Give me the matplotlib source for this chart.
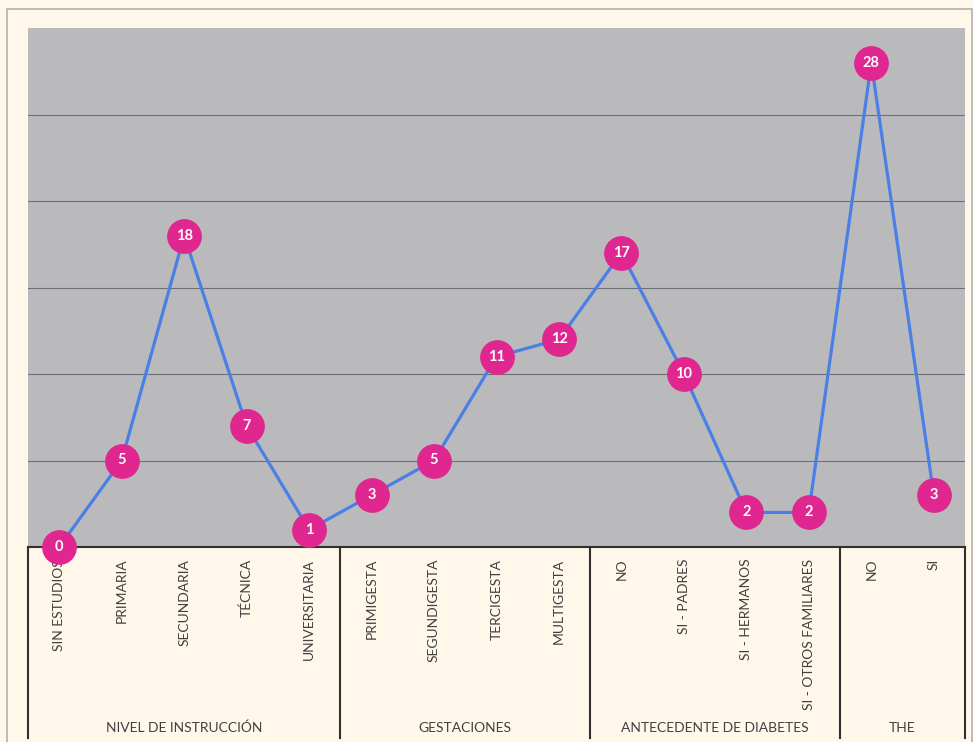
import matplotlib
matplotlib.use("Agg")
import matplotlib.pyplot as plt
from matplotlib.patches import Rectangle
from matplotlib.transforms import blended_transform_factory

categories = ["SIN ESTUDIOS", "PRIMARIA", "SECUNDARIA", "TÉCNICA", "UNIVERSITARIA",
              "PRIMIGESTA", "SEGUNDIGESTA", "TERCIGESTA", "MULTIGESTA",
              "NO", "SI - PADRES", "SI - HERMANOS", "SI - OTROS FAMILIARES",
              "NO", "SI"]
values = [0, 5, 18, 7, 1, 3, 5, 11, 12, 17, 10, 2, 2, 28, 3]
groups = ["NIVEL DE INSTRUCCIÓN", "GESTACIONES", "ANTECEDENTE DE DIABETES", "THE"]
group_sizes = [5, 4, 4, 2]

CREAM = "#fff8ea"
GREY = "#bababd"
LINE = "#4a7fe6"
DOT = "#e0268f"
TXT = "#404040"

plt.rcParams["font.family"] = ["Lato", "DejaVu Sans"]

fig = plt.figure(figsize=(9.73, 7.42), dpi=100, facecolor=CREAM)
fig.patches.append(Rectangle((7 / 973, -0.01), 965 / 973, 1 - 9 / 742 + 0.01,
                             transform=fig.transFigure, fill=False,
                             edgecolor="#b0b0b0", lw=1.2))
ax = fig.add_axes([28 / 973, 195 / 742, 937 / 973, 519 / 742])
ax.set_facecolor(GREY)

x = list(range(len(categories)))
ax.plot(x, values, color=LINE, lw=2.3, zorder=3, clip_on=False)
ax.plot(x, values, ls="none", marker="o", ms=24, mfc=DOT, mec=DOT,
        zorder=4, clip_on=False)
for xi, v in zip(x, values):
    ax.text(xi, v, str(v), ha="center", va="center", color="white",
            fontsize=10.5, fontweight="bold", zorder=5, clip_on=False)

ax.set_xlim(-0.5, len(categories) - 0.5)
ax.set_ylim(0, 30)
ax.set_yticks(range(0, 26, 5))
ax.yaxis.grid(True, color="#6a7278", lw=0.8)
ax.set_axisbelow(True)
ax.tick_params(left=False, labelleft=False, bottom=False)
for s in ["top", "right", "left"]:
    ax.spines[s].set_visible(False)
ax.spines["bottom"].set_color("#303030")
ax.spines["bottom"].set_linewidth(1.5)

ax.set_xticks(x)
ax.set_xticklabels(categories, rotation=90, va="top", ha="center",
                   fontsize=10, color=TXT)
ax.tick_params(axis="x", pad=5)

# group boxes under the axis
trans = blended_transform_factory(ax.transData, ax.transAxes)
depth = -(738 - 547) / 519
edges = [-0.5]
for n in group_sizes:
    edges.append(edges[-1] + n)
for e in edges:
    ax.plot([e, e], [0, depth], color="#303030", lw=1.5, transform=trans,
            clip_on=False)
for g, a, b in zip(groups, edges[:-1], edges[1:]):
    ax.text((a + b) / 2, -(728 - 547) / 519, g, transform=trans, ha="center",
            va="center", fontsize=10, color=TXT)

fig.savefig("out.png", dpi=100, facecolor=CREAM)
